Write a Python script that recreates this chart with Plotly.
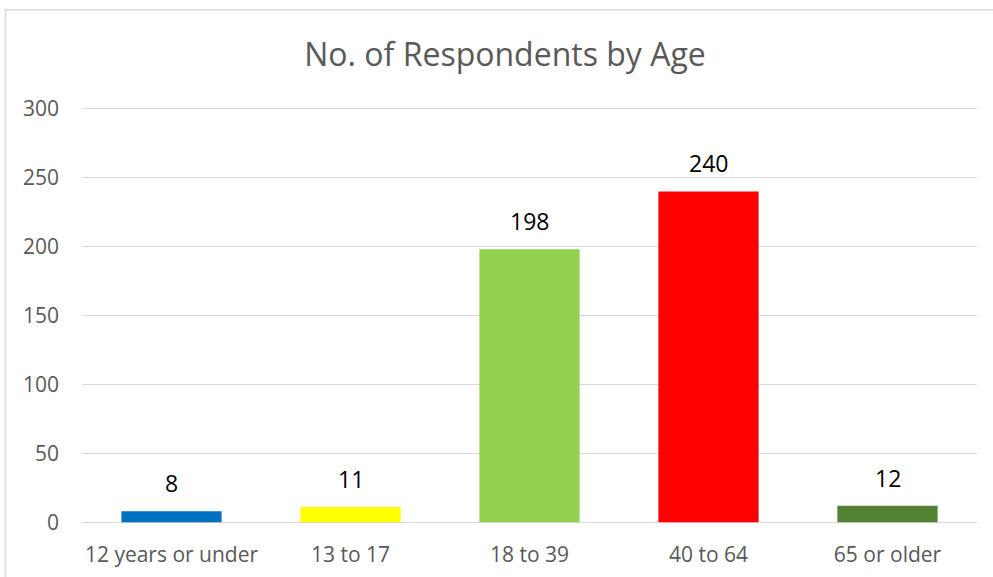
import plotly.graph_objects as go

categories = ["12 years or under", "13 to 17", "18 to 39", "40 to 64", "65 or older"]
respondents = [8, 11, 198, 240, 12]
bar_colors = ["#0070C0", "#FFFF00", "#92D050", "#FF0000", "#548235"]
y_ticks = [0, 50, 100, 150, 200, 250, 300]

FONT = "Open Sans"
PX_PER_UNIT = (522 - 108.5) / 300
Y_LO, Y_HI = -2, 302

fig = go.Figure()
fig.add_trace(go.Bar(
    x=categories, y=respondents,
    marker=dict(color=bar_colors, line=dict(width=0)),
    hoverinfo="skip",
))

annotations = []
for c, v in zip(categories, respondents):
    annotations.append(dict(
        x=c, y=v, xref="x", yref="y", text=str(v), showarrow=False,
        yanchor="bottom", yshift=10,
        font=dict(family=FONT, size=23, color="#000000"),
    ))

top = 108.5 - (Y_HI - 300) * PX_PER_UNIT
bottom = 522 + (0 - Y_LO) * PX_PER_UNIT
plot_h = bottom - top

fig.update_layout(
    width=993, height=577,
    margin=dict(l=82, r=16, t=top, b=577 - bottom, pad=0, autoexpand=False),
    paper_bgcolor="white", plot_bgcolor="white",
    bargap=0.44,
    showlegend=False,
    title=dict(text="No. of Respondents by Age", x=505 / 993,
               xanchor="center", xref="container",
               y=1 - 55 / 577, yanchor="middle",
               font=dict(family=FONT, size=32, color="#595959")),
    annotations=annotations,
    xaxis=dict(showgrid=False, zeroline=False, showline=False, ticks="",
               automargin=False,
               tickfont=dict(family=FONT, size=21, color="#595959"),
               ticklabelstandoff=15),
    yaxis=dict(range=[Y_LO, Y_HI], tickvals=y_ticks, showgrid=True,
               automargin=False,
               gridcolor="#D9D9D9", gridwidth=1.3, zeroline=False,
               showline=False, ticks="",
               tickfont=dict(family=FONT, size=21, color="#595959"),
               ticklabelstandoff=22),
    shapes=[dict(type="rect", xref="paper", yref="paper",
                 x0=(5.5 - 82) / 895, x1=(1000 - 82) / 895,
                 y0=(bottom - 590) / plot_h, y1=(bottom - 9.5) / plot_h,
                 line=dict(color="#D9D9D9", width=1.5), layer="below")],
)

fig.write_html("out.html", config={"displayModeBar": False},
               post_script="document.body.style.margin='0';")
